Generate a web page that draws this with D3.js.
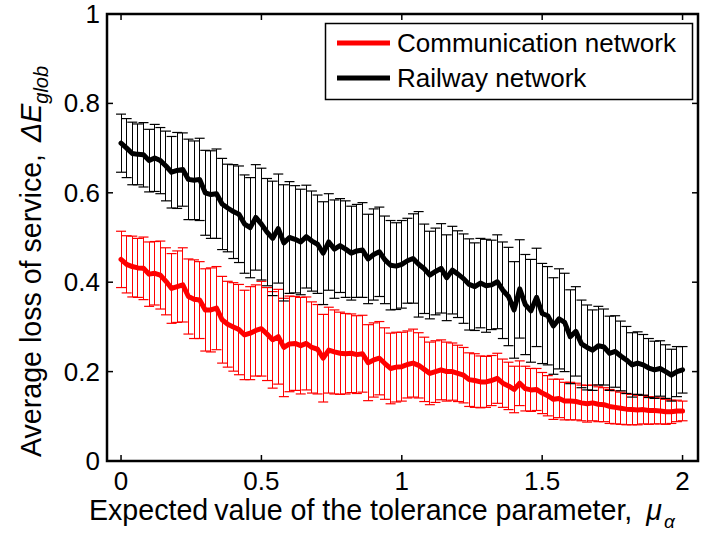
<!DOCTYPE html>
<html>
<head>
<meta charset="utf-8">
<script src="https://cdn.jsdelivr.net/npm/d3@7"></script>
<style>
  body { margin: 0; background: #fff; }
  text { font-family: "Liberation Sans", Arial, sans-serif; fill: #000; }
</style>
</head>
<body>
<div id="chart"></div>
<script>
// x values: 0 .. 2 step 0.02 (101 points)
const xVals = d3.range(0, 101).map(i => +(i * 0.02).toFixed(2));

const railMean = [
  0.711,0.700,0.688,0.686,0.685,0.672,0.678,0.672,0.660,0.646,
  0.650,0.652,0.630,0.628,0.630,0.600,0.596,0.598,0.575,0.566,
  0.558,0.552,0.530,0.522,0.545,0.530,0.512,0.498,0.520,0.488,
  0.500,0.496,0.490,0.502,0.492,0.485,0.465,0.490,0.474,0.482,
  0.474,0.465,0.470,0.472,0.452,0.462,0.468,0.450,0.438,0.436,
  0.440,0.448,0.453,0.440,0.430,0.416,0.424,0.431,0.410,0.427,
  0.418,0.408,0.395,0.390,0.398,0.392,0.394,0.401,0.382,0.368,
  0.338,0.385,0.350,0.336,0.366,0.330,0.325,0.302,0.318,0.310,
  0.278,0.290,0.262,0.254,0.248,0.258,0.255,0.241,0.245,0.235,
  0.226,0.215,0.219,0.215,0.208,0.204,0.207,0.200,0.192,0.200,
  0.204
];
const railErr = [
  0.065,0.066,0.070,0.068,0.072,0.070,0.075,0.074,0.078,0.080,0.085,
  0.082,0.090,0.088,0.092,0.095,0.098,0.100,0.102,0.098,0.105,0.108,0.110,
  0.112,0.118,0.125,0.120,0.128,0.122,0.130,0.125,
  0.120,0.118,0.115,0.112,0.110,0.115,0.108,0.110,0.105,0.108,
  0.105,0.104,0.106,0.100,0.102,0.100,0.098,0.100,0.097,0.098,
  0.095,0.100,0.118,0.100,0.098,0.097,0.100,0.096,0.098,0.097,
  0.100,0.102,0.098,0.100,0.104,0.100,0.105,0.108,0.110,0.108,
  0.110,0.112,0.115,0.110,0.112,0.110,0.108,0.112,0.110,0.105,
  0.100,0.098,0.095,0.090,0.088,0.085,0.083,0.080,0.078,0.075,
  0.072,0.070,0.068,0.066,0.064,0.062,0.060,0.058,0.056,0.052
];

const commMean = [
  0.451,0.440,0.435,0.432,0.431,0.418,0.420,0.416,0.402,0.386,
  0.390,0.394,0.368,0.362,0.360,0.338,0.338,0.342,0.316,0.306,
  0.300,0.294,0.282,0.286,0.292,0.296,0.284,0.271,0.278,0.254,
  0.262,0.263,0.258,0.263,0.254,0.250,0.230,0.248,0.244,0.241,
  0.240,0.241,0.238,0.240,0.220,0.226,0.230,0.218,0.207,0.210,
  0.211,0.216,0.219,0.214,0.205,0.196,0.200,0.204,0.200,0.200,
  0.196,0.192,0.182,0.180,0.177,0.177,0.180,0.185,0.174,0.168,
  0.160,0.174,0.162,0.159,0.160,0.152,0.146,0.138,0.140,0.134,
  0.134,0.133,0.130,0.128,0.130,0.127,0.126,0.122,0.120,0.118,
  0.116,0.115,0.114,0.115,0.113,0.113,0.112,0.110,0.110,0.112,
  0.112
];
const commErr = [
  0.063,0.064,0.068,0.066,0.070,0.072,0.071,0.076,0.075,0.078,0.080,
  0.083,0.084,0.088,0.086,0.092,0.094,0.093,0.097,0.096,0.099,0.101,0.100,
  0.104,0.102,0.106,0.104,0.108,0.106,0.110,0.107,
  0.105,0.108,0.104,0.102,0.100,0.098,0.096,0.094,0.092,0.090,
  0.088,0.087,0.086,0.085,0.083,0.082,0.080,0.079,0.078,0.077,
  0.075,0.076,0.073,0.072,0.070,0.069,0.067,0.066,0.064,0.063,
  0.062,0.060,0.060,0.058,0.057,0.056,0.056,0.054,0.053,0.052,
  0.050,0.050,0.048,0.047,0.046,0.045,0.045,0.043,0.042,0.042,
  0.041,0.040,0.041,0.040,0.039,0.038,0.038,0.037,0.036,0.035,
  0.034,0.033,0.032,0.031,0.030,0.029,0.028,0.026,0.024,0.022
];

const xTicks = [0, 0.5, 1, 1.5, 2];
const yTicks = [0, 0.2, 0.4, 0.6, 0.8, 1];
const seriesNames = ["Communication network", "Railway network"];
const seriesColors = ["#ff0000", "#000000"];

const width = 716, height = 535;
const box = {left: 107, right: 698, top: 14, bottom: 461};
const tickFont = 26, labelFont = 28.6;   // labels 1.1x tick size, matlab style

const svg = d3.select("#chart").append("svg")
  .attr("width", width).attr("height", height);

const x = d3.scaleLinear().domain([-0.05, 2.055]).range([box.left, box.right]);
const y = d3.scaleLinear().domain([0, 1]).range([box.bottom, box.top]);

// series: red first, then black on top
const series = [
  {mean: commMean, err: commErr, color: seriesColors[0]},
  {mean: railMean, err: railErr, color: seriesColors[1]}
];

const capHalf = 5;
const line = d3.line().x((d, i) => x(xVals[i])).y(d => y(d));

series.forEach(s => {
  const g = svg.append("g");
  const pts = s.mean.map((m, i) => ({x: xVals[i], m, e: s.err[i]}));
  // vertical bars
  g.selectAll("line.v").data(pts).join("line")
    .attr("class", "v")
    .attr("x1", d => x(d.x)).attr("x2", d => x(d.x))
    .attr("y1", d => y(d.m + d.e)).attr("y2", d => y(d.m - d.e))
    .attr("stroke", s.color).attr("stroke-width", 1)
    .attr("shape-rendering", "crispEdges");
  // caps
  ["top", "bot"].forEach(k => {
    g.selectAll("line." + k).data(pts).join("line")
      .attr("class", k)
      .attr("x1", d => x(d.x) - capHalf).attr("x2", d => x(d.x) + capHalf)
      .attr("y1", d => y(k === "top" ? d.m + d.e : d.m - d.e))
      .attr("y2", d => y(k === "top" ? d.m + d.e : d.m - d.e))
      .attr("stroke", s.color).attr("stroke-width", 1.2);
  });
  g.append("path").datum(s.mean)
    .attr("d", line)
    .attr("fill", "none")
    .attr("stroke", s.color)
    .attr("stroke-width", 5)
    .attr("stroke-linejoin", "round")
    .attr("stroke-linecap", "round");
});

// axes box with inward ticks on all sides
const tickLen = 6;
const axG = svg.append("g");
xTicks.forEach(t => {
  axG.append("line").attr("x1", x(t)).attr("x2", x(t))
    .attr("y1", box.bottom).attr("y2", box.bottom - tickLen)
    .attr("stroke", "#000").attr("stroke-width", 1.5);
  axG.append("line").attr("x1", x(t)).attr("x2", x(t))
    .attr("y1", box.top).attr("y2", box.top + tickLen)
    .attr("stroke", "#000").attr("stroke-width", 1.5);
  axG.append("text").attr("x", x(t)).attr("y", 490)
    .attr("text-anchor", "middle").attr("font-size", tickFont)
    .text(d3.format("~g")(t));
});
yTicks.forEach(t => {
  axG.append("line").attr("x1", box.left).attr("x2", box.left + tickLen)
    .attr("y1", y(t)).attr("y2", y(t))
    .attr("stroke", "#000").attr("stroke-width", 1.5);
  axG.append("line").attr("x1", box.right).attr("x2", box.right - tickLen)
    .attr("y1", y(t)).attr("y2", y(t))
    .attr("stroke", "#000").attr("stroke-width", 1.5);
  axG.append("text").attr("x", 100).attr("y", y(t) + 9)
    .attr("text-anchor", "end").attr("font-size", tickFont)
    .text(d3.format("~g")(t));
});
axG.append("rect")
  .attr("x", box.left).attr("y", box.top)
  .attr("width", box.right - box.left).attr("height", box.bottom - box.top)
  .attr("fill", "none").attr("stroke", "#000").attr("stroke-width", 2.5);

// legend
const leg = svg.append("g");
leg.append("rect")
  .attr("x", 325.5).attr("y", 23.5).attr("width", 367).attr("height", 76)
  .attr("fill", "#fff").attr("stroke", "#000").attr("stroke-width", 1.5);
seriesNames.forEach((name, i) => {
  const ly = 43 + i * 35;
  leg.append("line").attr("x1", 337).attr("x2", 390)
    .attr("y1", ly).attr("y2", ly)
    .attr("stroke", seriesColors[i]).attr("stroke-width", 5);
  leg.append("text").attr("x", 397).attr("y", ly + 9)
    .attr("font-size", tickFont).text(name);
});

// x label
const xl = svg.append("text").attr("x", 89).attr("y", 520).attr("font-size", labelFont);
xl.append("tspan").text("Expected");
xl.append("tspan").attr("dx", 6).text("value of the tolerance parameter,");
xl.append("tspan").attr("dx", 14).attr("font-style", "italic").text("\u03bc");
xl.append("tspan").attr("font-style", "italic").attr("font-size", 19)
  .attr("dx", 2).attr("dy", 8).text("\u03b1");

// y label
const yl = svg.append("text")
  .attr("transform", "translate(41,457) rotate(-90)")
  .attr("font-size", labelFont);
yl.append("tspan").text("Average loss of service,");
yl.append("tspan").attr("dx", 12).attr("font-style", "italic").text("\u0394E");
yl.append("tspan").attr("font-style", "italic").attr("font-size", 20)
  .attr("dy", 7).text("glob");
</script>
</body>
</html>
